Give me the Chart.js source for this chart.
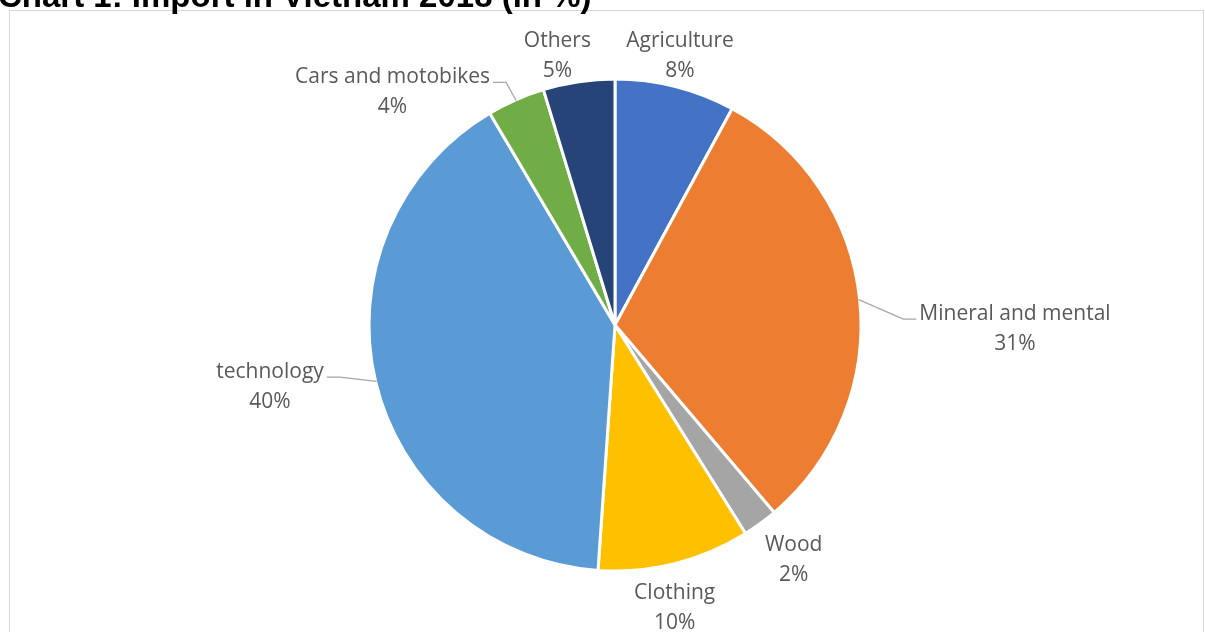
<!DOCTYPE html>
<html>
<head>
<meta charset="utf-8">
<script src="https://cdn.jsdelivr.net/npm/chart.js@4.4.0/dist/chart.umd.min.js"></script>
<style>
  html, body { margin: 0; padding: 0; background: #ffffff; }
  #wrap { width: 1205px; height: 632px; position: relative; }
</style>
</head>
<body>
<div id="wrap"><canvas id="c" width="1205" height="632"></canvas></div>
<script>
const categories = ["Agriculture", "Mineral and mental", "Wood", "Clothing", "technology", "Cars and motobikes", "Others"];
const values = [7.9, 30.9, 2.3, 10.0, 40.4, 3.8, 4.7];
const colors = ["#4472C4", "#ED7D31", "#A5A5A5", "#FFC000", "#5B9BD5", "#70AD47", "#264478"];
const titleText = "Chart 1: Import in Vietnam 2018 (in %)";

// label layout (style): distance from centre (px), angle tweak (deg), leader line
const labelLayout = [
  { dist: 280, tweak: -0.8, leader: false },
  { dist: 400, tweak: 6.1, leader: true },
  { dist: 293, tweak: -1.4, leader: false },
  { dist: 286, tweak: 2.0, leader: false },
  { dist: 350, tweak: 3.6, leader: true },
  { dist: 324, tweak: -19.6, leader: true },
  { dist: 278, tweak: -3.5, leader: false }
];

const framePlugin = {
  id: 'frame',
  beforeDraw(chart) {
    const ctx = chart.ctx;
    ctx.save();
    ctx.fillStyle = '#ffffff';
    ctx.fillRect(0, 0, chart.width, chart.height);
    ctx.strokeStyle = '#d9d9d9';
    ctx.lineWidth = 1;
    ctx.strokeRect(9.5, 10.5, 1194, 640);
    ctx.fillStyle = '#000000';
    ctx.font = 'bold 33px "Liberation Sans", Arial, sans-serif';
    ctx.textBaseline = 'alphabetic';
    ctx.textAlign = 'left';
    ctx.fillText(titleText, -2, 7);
    ctx.restore();
  }
};

const labelPlugin = {
  id: 'pieLabels',
  afterDatasetsDraw(chart) {
    const ctx = chart.ctx;
    const meta = chart.getDatasetMeta(0);
    const total = values.reduce((a, b) => a + b, 0);
    ctx.save();
    ctx.font = '21px "Open Sans", "Noto Sans", sans-serif';
    ctx.fillStyle = '#595959';
    ctx.textAlign = 'center';
    ctx.textBaseline = 'middle';
    meta.data.forEach((arc, i) => {
      const p = arc.getProps(['x', 'y', 'startAngle', 'endAngle', 'outerRadius'], true);
      const mid = (p.startAngle + p.endAngle) / 2;
      const lay = labelLayout[i];
      const a = mid + lay.tweak * Math.PI / 180;
      const lx = p.x + Math.cos(a) * lay.dist;
      const ly = p.y + Math.sin(a) * lay.dist + 3;
      const line1 = categories[i];
      const line2 = Math.round(values[i] / total * 100) + '%';
      const y1 = ly - 15, y2 = ly + 15;
      if (lay.leader) {
        const w = ctx.measureText(line1).width;
        const right = lx > p.x;
        const edge = right ? lx - w / 2 - 3 : lx + w / 2 + 3;
        const elbowX = right ? edge - 13 : edge + 13;
        const yy = y1 + 5;
        const sx = p.x + Math.cos(mid) * (p.outerRadius - 1);
        const sy = p.y + Math.sin(mid) * (p.outerRadius - 1);
        ctx.beginPath();
        ctx.strokeStyle = '#a6a6a6';
        ctx.lineWidth = 1.2;
        ctx.moveTo(sx, sy);
        ctx.lineTo(elbowX, yy);
        ctx.lineTo(edge, yy);
        ctx.stroke();
      }
      ctx.fillText(line1, lx, y1);
      ctx.fillText(line2, lx, y2);
    });
    ctx.restore();
  }
};

new Chart(document.getElementById('c'), {
  type: 'pie',
  data: {
    labels: categories,
    datasets: [{
      data: values,
      backgroundColor: colors,
      borderColor: '#ffffff',
      borderWidth: 3,
      radius: 246
    }]
  },
  options: {
    responsive: false,
    animation: false,
    events: [],
    layout: { padding: { left: 369, right: 344, top: 79, bottom: 61 } },
    plugins: {
      legend: { display: false },
      tooltip: { enabled: false },
      title: { display: false }
    }
  },
  plugins: [framePlugin, labelPlugin]
});
</script>
</body>
</html>
